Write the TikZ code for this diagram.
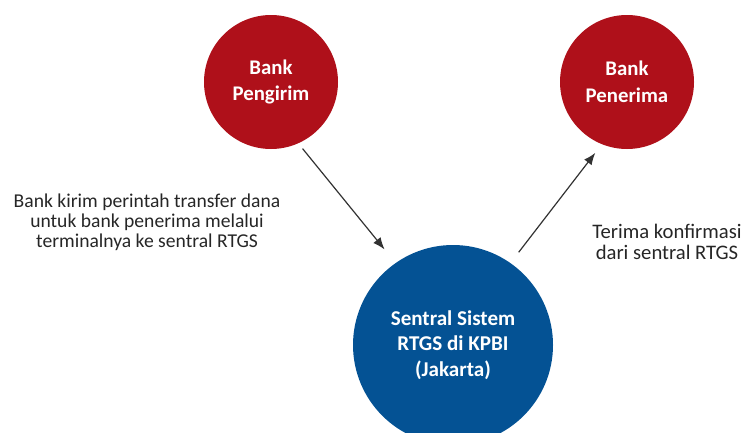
\documentclass[tikz,border=0pt]{standalone}
\usepackage{fontspec}
\setmainfont{Carlito}
\usetikzlibrary{arrows.meta}
\definecolor{bankred}{RGB}{175,16,26}
\definecolor{rtgsblue}{RGB}{4,82,148}
\definecolor{arrowgray}{RGB}{50,50,50}
\begin{document}
\begin{tikzpicture}[x=0.75pt,y=-0.75pt,
  bank/.style={circle,fill=bankred,inner sep=0pt,minimum size=100.5pt,text=white,align=center,font=\fontsize{15.6}{20}\selectfont\bfseries},
  central/.style={circle,fill=rtgsblue,inner sep=0pt,minimum size=150pt,text=white,align=center,font=\fontsize{15.8}{19}\selectfont\bfseries},
  note/.style={align=center,text=black!85,font=\fontsize{14.7}{15}\selectfont},
  flow/.style={draw=arrowgray,line width=0.9pt,-{Latex[length=9pt,width=7pt]}}]
\useasboundingbox (0,0) rectangle (745,432);
\clip (0,0) rectangle (745,432);
\node[bank] (send) at (271,82) {Bank\\Pengirim};
\node[bank] (recv) at (627,82) {Bank\\Penerima};
\node[central] (rtgs) at (453,345) {Sentral Sistem\\RTGS di KPBI\\(Jakarta)};
\node[note] (t1) at (147,222) {Bank kirim perintah transfer dana\\untuk bank penerima melalui\\terminalnya ke sentral RTGS};
\node[note,font=\fontsize{15.5}{15.5}\selectfont] (t2) at (667,242) {Terima konfirmasi\\dari sentral RTGS};
\draw[flow,shorten <=5pt,shorten >=13pt] (send.-66) -- (rtgs.125);
\draw[flow,shorten <=10pt,shorten >=8pt] (rtgs.55) -- (recv.-112);
\end{tikzpicture}
\end{document}
